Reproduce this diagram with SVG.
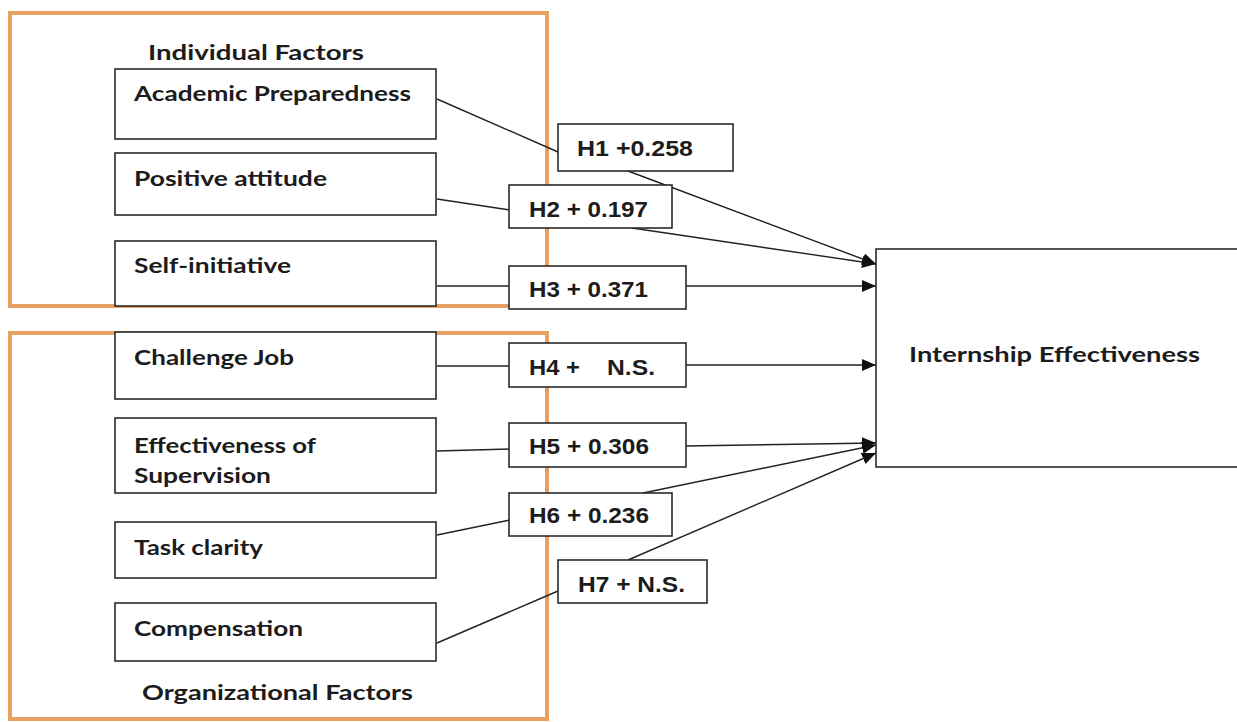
<svg xmlns="http://www.w3.org/2000/svg" width="1237" height="722" viewBox="0 0 1237 722">
<style>
.grp{fill:none;stroke:#E89F62;stroke-width:4}
.box{fill:#fff;stroke:#2a2a2a;stroke-width:1.6}
.lbl{font-family:Lato,"Noto Sans",sans-serif;font-weight:bold;font-size:21px;fill:#1c1c1c}
.hyp{font-family:"Liberation Sans",Arial,sans-serif;font-weight:bold;font-size:22px;fill:#1c1c1c}
.ln{fill:none;stroke:#222;stroke-width:1.4}
.arr{fill:none;stroke:#222;stroke-width:1.4;marker-end:url(#ah)}
</style>
<defs>
<marker id="ah" markerUnits="userSpaceOnUse" markerWidth="15" markerHeight="12" refX="14" refY="6" orient="auto">
<path d="M0,0 L14,6 L0,12 Z" fill="#111"/>
</marker>
</defs>
<rect width="1237" height="722" fill="#fff"/>
<g id="group-individual">
<rect class="grp" x="10" y="13" width="537" height="293"/>
<text class="lbl" x="148" y="60" textLength="216" lengthAdjust="spacingAndGlyphs">Individual Factors</text>
</g>
<g id="group-organizational">
<rect class="grp" x="10" y="333" width="537" height="386"/>
<text class="lbl" x="142" y="700" textLength="271" lengthAdjust="spacingAndGlyphs">Organizational Factors</text>
</g>
<g id="connectors">
<line class="ln" x1="437" y1="99" x2="558" y2="152"/>
<line class="ln" x1="437" y1="199" x2="510" y2="210"/>
<line class="ln" x1="437" y1="286" x2="510" y2="286"/>
<line class="ln" x1="437" y1="366" x2="510" y2="366"/>
<line class="ln" x1="437" y1="451" x2="510" y2="449"/>
<line class="ln" x1="437" y1="535" x2="510" y2="520"/>
<line class="ln" x1="437" y1="643" x2="558" y2="591"/>
<line class="arr" x1="628" y1="171" x2="876" y2="264"/>
<line class="arr" x1="632" y1="228" x2="876" y2="264"/>
<line class="arr" x1="686" y1="286" x2="876" y2="286"/>
<line class="arr" x1="686" y1="365" x2="876" y2="365"/>
<line class="arr" x1="686" y1="446" x2="876" y2="443"/>
<line class="arr" x1="643" y1="493" x2="876" y2="445"/>
<line class="arr" x1="628" y1="560" x2="876" y2="453"/>
</g>
<g id="n-academic">
<rect class="box" x="115" y="69" width="321" height="70"/>
<text class="lbl" x="134" y="101" textLength="277" lengthAdjust="spacingAndGlyphs">Academic Preparedness</text>
</g>
<g id="n-positive">
<rect class="box" x="115" y="153" width="321" height="62"/>
<text class="lbl" x="134" y="186" textLength="193" lengthAdjust="spacingAndGlyphs">Positive attitude</text>
</g>
<g id="n-self">
<rect class="box" x="115" y="241" width="321" height="65"/>
<text class="lbl" x="134" y="273" textLength="157" lengthAdjust="spacingAndGlyphs">Self-initiative</text>
</g>
<g id="n-challenge">
<rect class="box" x="115" y="332" width="321" height="67"/>
<text class="lbl" x="134" y="365" textLength="160" lengthAdjust="spacingAndGlyphs">Challenge Job</text>
</g>
<g id="n-supervision">
<rect class="box" x="115" y="418" width="321" height="75"/>
<text class="lbl" x="134" y="453" textLength="182" lengthAdjust="spacingAndGlyphs">Effectiveness of</text>
<text class="lbl" x="134" y="483" textLength="137" lengthAdjust="spacingAndGlyphs">Supervision</text>
</g>
<g id="n-task">
<rect class="box" x="115" y="522" width="321" height="56"/>
<text class="lbl" x="134" y="555" textLength="129" lengthAdjust="spacingAndGlyphs">Task clarity</text>
</g>
<g id="n-compensation">
<rect class="box" x="115" y="603" width="321" height="58"/>
<text class="lbl" x="134" y="636" textLength="169" lengthAdjust="spacingAndGlyphs">Compensation</text>
</g>
<g id="h1">
<rect class="box" x="558" y="124" width="175" height="47"/>
<text class="hyp" x="577" y="156" textLength="116" lengthAdjust="spacingAndGlyphs">H1 +0.258</text>
</g>
<g id="h2">
<rect class="box" x="509" y="185" width="163" height="43"/>
<text class="hyp" x="529" y="217" textLength="119" lengthAdjust="spacingAndGlyphs">H2 + 0.197</text>
</g>
<g id="h3">
<rect class="box" x="509" y="266" width="177" height="43"/>
<text class="hyp" x="529" y="297" textLength="119" lengthAdjust="spacingAndGlyphs">H3 + 0.371</text>
</g>
<g id="h4">
<rect class="box" x="509" y="343" width="177" height="44"/>
<text class="hyp" y="375"><tspan x="529" textLength="51" lengthAdjust="spacingAndGlyphs">H4 +</tspan><tspan x="607" textLength="48" lengthAdjust="spacingAndGlyphs">N.S.</tspan></text>
</g>
<g id="h5">
<rect class="box" x="509" y="423" width="177" height="44"/>
<text class="hyp" x="529" y="454" textLength="120" lengthAdjust="spacingAndGlyphs">H5 + 0.306</text>
</g>
<g id="h6">
<rect class="box" x="509" y="493" width="163" height="43"/>
<text class="hyp" x="529" y="523" textLength="120" lengthAdjust="spacingAndGlyphs">H6 + 0.236</text>
</g>
<g id="h7">
<rect class="box" x="558" y="560" width="149" height="43"/>
<text class="hyp" x="578" y="592" textLength="107" lengthAdjust="spacingAndGlyphs">H7 + N.S.</text>
</g>
<g id="n-internship">
<rect class="box" x="876" y="249" width="370" height="218"/>
<text class="lbl" x="909" y="362" textLength="291" lengthAdjust="spacingAndGlyphs">Internship Effectiveness</text>
</g>
</svg>
